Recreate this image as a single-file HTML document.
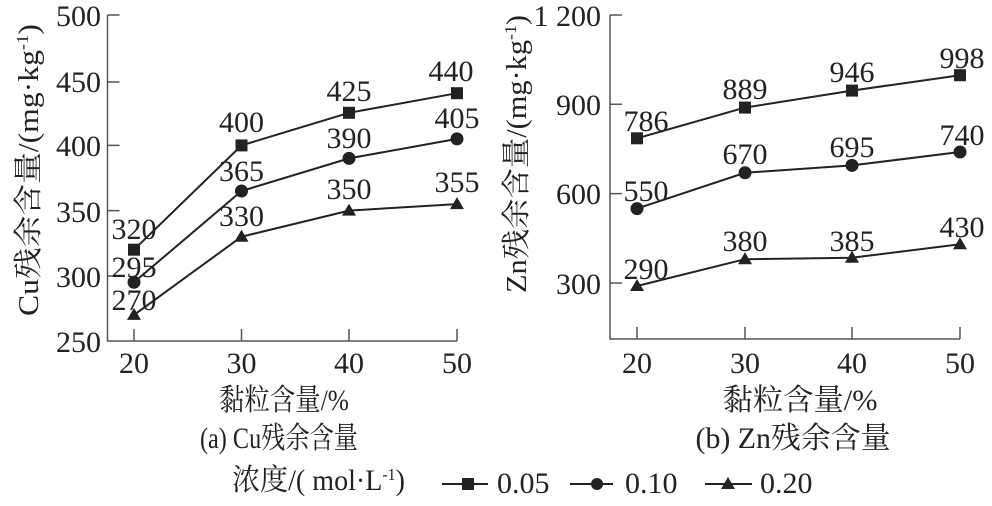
<!DOCTYPE html>
<html><head><meta charset="utf-8"><style>
body{margin:0;background:#fff}
svg text{font-family:"Liberation Serif","Noto Serif CJK SC",serif;fill:#222}
</style></head><body>
<svg width="992" height="501" viewBox="0 0 992 501" xmlns="http://www.w3.org/2000/svg">
<g stroke="#555" stroke-width="1.5" fill="none">
<path d="M107.5 15V341H457"/>
<path d="M107.5 15h12M107.5 82h12M107.5 145.4h12M107.5 210.6h12M107.5 276h12"/>
<path d="M134 341v-12M241.5 341v-12M349 341v-12M457 341v-12"/>
<path d="M610 15V339H960"/>
<path d="M610 15h12M610 104.3h12M610 193.6h12M610 283h12"/>
<path d="M637 339v-12M745 339v-12M852 339v-12M960 339v-12"/>
</g>
<g font-size="30" text-anchor="end">
<text x="101" y="26">500</text><text x="101" y="92">450</text><text x="101" y="156">400</text><text x="101" y="222">350</text><text x="101" y="287">300</text><text x="101" y="352">250</text>
<text x="601" y="26">1 200</text><text x="601" y="115">900</text><text x="601" y="204">600</text><text x="601" y="294">300</text>
</g>
<g font-size="30" text-anchor="middle">
<text x="134" y="373">20</text><text x="241.5" y="373">30</text><text x="349" y="373">40</text><text x="457" y="373">50</text>
<text x="637" y="373">20</text><text x="745" y="373">30</text><text x="852" y="373">40</text><text x="960" y="373">50</text>
</g>
<text transform="translate(38,170) rotate(-90)" font-size="29" text-anchor="middle" textLength="292" lengthAdjust="spacingAndGlyphs">Cu残余含量/(mg·kg<tspan font-size="17" dy="-10">-1</tspan><tspan dy="10">)</tspan></text>
<text transform="translate(526,154) rotate(-90)" font-size="29" text-anchor="middle" textLength="278" lengthAdjust="spacingAndGlyphs">Zn残余含量/(mg·kg<tspan font-size="17" dy="-10">-1</tspan><tspan dy="10">)</tspan></text>
<g stroke="#222" stroke-width="2" fill="none">
<polyline points="134,249.7 241.5,145.4 349,112.8 457,93.2"/>
<polyline points="134,282.3 241.5,191 349,158.4 457,138.9"/>
<polyline points="134,314.9 241.5,236.7 349,210.6 457,204.1"/>
<polyline points="637,138.3 745,107.6 852,90.6 960,75.2"/>
<polyline points="637,208.6 745,172.8 852,165.4 960,152"/>
<polyline points="637,286 745,259.2 852,257.7 960,244.3"/>
</g>
<g fill="#222">
<rect x="128" y="243.7" width="12" height="12"/><rect x="235.5" y="139.4" width="12" height="12"/><rect x="343" y="106.8" width="12" height="12"/><rect x="451" y="87.2" width="12" height="12"/>
<rect x="631" y="132.3" width="12" height="12"/><rect x="739" y="101.6" width="12" height="12"/><rect x="846" y="84.6" width="12" height="12"/><rect x="954" y="69.2" width="12" height="12"/>
<circle cx="134" cy="282.3" r="6.5"/><circle cx="241.5" cy="191" r="6.5"/><circle cx="349" cy="158.4" r="6.5"/><circle cx="457" cy="138.9" r="6.5"/>
<circle cx="637" cy="208.6" r="6.5"/><circle cx="745" cy="172.8" r="6.5"/><circle cx="852" cy="165.4" r="6.5"/><circle cx="960" cy="152" r="6.5"/>
<path d="M134 307.9l7 12h-14zM241.5 229.7l7 12h-14zM349 203.6l7 12h-14zM457 197.1l7 12h-14z"/>
<path d="M637 279l7 12h-14zM745 252.2l7 12h-14zM852 250.7l7 12h-14zM960 237.3l7 12h-14z"/>
</g>
<g font-size="30" text-anchor="middle">
<text x="134" y="239">320</text><text x="241.5" y="132">400</text><text x="349" y="101">425</text><text x="451" y="81">440</text>
<text x="134" y="277">295</text><text x="241.5" y="181">365</text><text x="349" y="148">390</text><text x="457" y="128">405</text>
<text x="134" y="310">270</text><text x="241.5" y="226">330</text><text x="349" y="199">350</text><text x="457" y="192">355</text>
<text x="646" y="131">786</text><text x="745" y="99">889</text><text x="852" y="82">946</text><text x="962" y="68">998</text>
<text x="646" y="201">550</text><text x="745" y="164">670</text><text x="852" y="157">695</text><text x="962" y="145">740</text>
<text x="646" y="279">290</text><text x="745" y="251">380</text><text x="852" y="251">385</text><text x="962" y="237">430</text>
</g>
<g font-size="30" text-anchor="middle">
<text x="284" y="410" textLength="130" lengthAdjust="spacingAndGlyphs">黏粒含量/%</text>
<text x="279" y="448" textLength="158" lengthAdjust="spacingAndGlyphs">(a) Cu残余含量</text>
<text x="800" y="410" textLength="155" lengthAdjust="spacingAndGlyphs">黏粒含量/%</text>
<text x="793" y="448" textLength="195" lengthAdjust="spacingAndGlyphs">(b) Zn残余含量</text>
</g>
<text x="232" y="490" font-size="30" textLength="173" lengthAdjust="spacingAndGlyphs">浓度/( mol·L<tspan font-size="17" dy="-10">-1</tspan><tspan dy="10">)</tspan></text>
<g stroke="#222" stroke-width="2"><path d="M442 484h46M570 484h43M705 484h47"/></g>
<rect x="462" y="478" width="12" height="12" fill="#222"/>
<circle cx="597" cy="484" r="6" fill="#222"/>
<path d="M728 477l7 12h-14z" fill="#222"/>
<g font-size="30"><text x="497" y="493">0.05</text><text x="625" y="493">0.10</text><text x="760" y="493">0.20</text></g>
</svg>
</body></html>
